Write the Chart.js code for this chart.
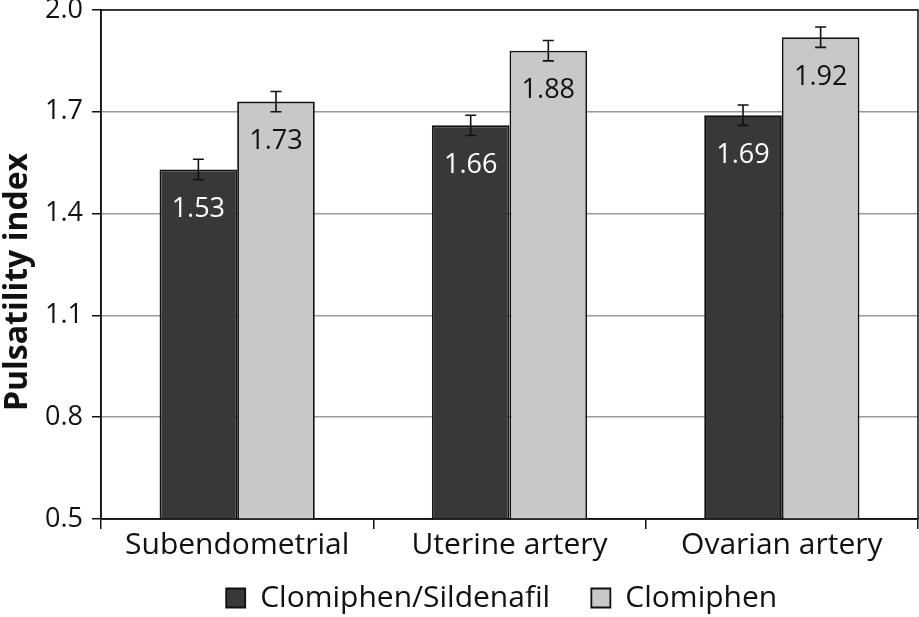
<!DOCTYPE html>
<html lang="en">
<head>
  <meta charset="UTF-8">
  <title>Pulsatility index</title>
  <script src="https://cdn.jsdelivr.net/npm/chart.js"></script>
  <style>
    html, body { margin: 0; padding: 0; background: #fff; }
    #wrap { width: 919px; height: 617px; }
  </style>
</head>
<body>
<div id="wrap"><canvas id="chart" width="919" height="617"></canvas></div>

<script>
  // Data
  const categories = ['Subendometrial', 'Uterine artery', 'Ovarian artery'];
  const seriesNames = ['Clomiphen/Sildenafil', 'Clomiphen'];
  const combinedValues = [1.53, 1.66, 1.69];
  const clomiphenValues = [1.73, 1.88, 1.92];
  const combinedErrors = [0.03, 0.03, 0.03];
  const clomiphenErrors = [0.03, 0.03, 0.03];
  const yTicks = [0.5, 0.8, 1.1, 1.4, 1.7, 2.0];
  const yTitle = 'Pulsatility index';

  const FONT = 'Open Sans';
  const NBSP = '\u00a0';

  // error bars from the y scale
  const errorBars = {
    id: 'errorBars',
    afterDatasetsDraw(chart) {
      const ctx = chart.ctx;
      const y = chart.scales.y;
      ctx.save();
      ctx.strokeStyle = '#111';
      ctx.lineWidth = 1.6;
      chart.data.datasets.forEach((ds, i) => {
        const meta = chart.getDatasetMeta(i);
        meta.data.forEach((bar, j) => {
          const v = ds.data[j], e = ds.errors[j];
          const top = y.getPixelForValue(v + e);
          const bot = y.getPixelForValue(v - e);
          ctx.beginPath();
          ctx.moveTo(bar.x, top); ctx.lineTo(bar.x, bot);
          ctx.moveTo(bar.x - 5.5, top); ctx.lineTo(bar.x + 5.5, top);
          ctx.moveTo(bar.x - 5.5, bot); ctx.lineTo(bar.x + 5.5, bot);
          ctx.stroke();
        });
      });
      ctx.restore();
    }
  };

  // value labels inside the bars
  const valueLabels = {
    id: 'valueLabels',
    afterDatasetsDraw(chart) {
      const ctx = chart.ctx;
      ctx.save();
      ctx.font = '27px "' + FONT + '"';
      ctx.textAlign = 'center';
      ctx.textBaseline = 'middle';
      chart.data.datasets.forEach((ds, i) => {
        const meta = chart.getDatasetMeta(i);
        ctx.fillStyle = ds.labelColor;
        meta.data.forEach((bar, j) => {
          ctx.fillText(ds.data[j].toFixed(2), bar.x, bar.y + 40);
        });
      });
      ctx.restore();
    }
  };

  // box around the plot area + rotated y title
  const frame = {
    id: 'frame',
    afterDraw(chart) {
      const a = chart.chartArea, ctx = chart.ctx;
      ctx.save();
      ctx.strokeStyle = '#111';
      ctx.lineWidth = 1.5;
      ctx.strokeRect(a.left, a.top, a.right - a.left, a.bottom - a.top);

      ctx.translate(18, 282);
      ctx.rotate(-Math.PI / 2);
      ctx.fillStyle = '#111';
      ctx.textAlign = 'center';
      ctx.textBaseline = 'middle';
      ctx.font = 'bold 32px "' + FONT + '"';
      ctx.fillText(yTitle, 0, 0);
      ctx.restore();
    }
  };

  new Chart(document.getElementById('chart'), {
    type: 'bar',
    data: {
      labels: categories,
      datasets: [
        {
          label: seriesNames[0],
          data: combinedValues,
          errors: combinedErrors,
          backgroundColor: '#383838',
          borderColor: '#111',
          borderWidth: 1.8,
          labelColor: '#fff',
          categoryPercentage: 0.57,
          barPercentage: 1.0
        },
        {
          label: seriesNames[1],
          data: clomiphenValues,
          errors: clomiphenErrors,
          backgroundColor: '#c8c8c8',
          borderColor: '#111',
          borderWidth: 1.8,
          labelColor: '#111',
          categoryPercentage: 0.57,
          barPercentage: 1.0
        }
      ]
    },
    options: {
      responsive: false,
      animation: false,
      layout: { padding: { top: 10, right: 1, bottom: -6, left: 0 } },
      plugins: {
        legend: {
          position: 'bottom',
          fullSize: false,
          labels: {
            color: '#111',
            font: { family: FONT, size: 30 },
            boxWidth: 19,
            boxHeight: 19,
            padding: 10,
            generateLabels(chart) {
              const items = Chart.defaults.plugins.legend.labels.generateLabels(chart);
              // wider gap between the entries, as in the figure
              items[0].text = items[0].text + NBSP.repeat(4);
              items[1].text = items[1].text + NBSP.repeat(2);
              return items;
            }
          }
        },
        tooltip: { enabled: false }
      },
      scales: {
        x: {
          grid: { drawOnChartArea: false, color: '#111', tickLength: 10, lineWidth: 1.5 },
          border: { color: '#111', width: 1.5 },
          ticks: { color: '#111', font: { family: FONT, size: 30 }, padding: -2 },
          afterFit(s) { s.height = 54; }
        },
        y: {
          min: yTicks[0],
          max: yTicks[yTicks.length - 1],
          afterBuildTicks(s) { s.ticks = yTicks.map(v => ({ value: v })); },
          grid: { color: '#9a9a9a', tickColor: '#111', tickLength: 9, lineWidth: 1.5 },
          border: { color: '#111', width: 1.5 },
          ticks: {
            color: '#111',
            font: { family: FONT, size: 27, lineHeight: 0.7 },
            padding: 9,
            callback: v => v.toFixed(1)
          },
          afterFit(s) { s.width = 101; s.paddingTop = 0; s.paddingBottom = 0; }
        }
      }
    },
    plugins: [errorBars, valueLabels, frame]
  });
</script>
</body>
</html>
